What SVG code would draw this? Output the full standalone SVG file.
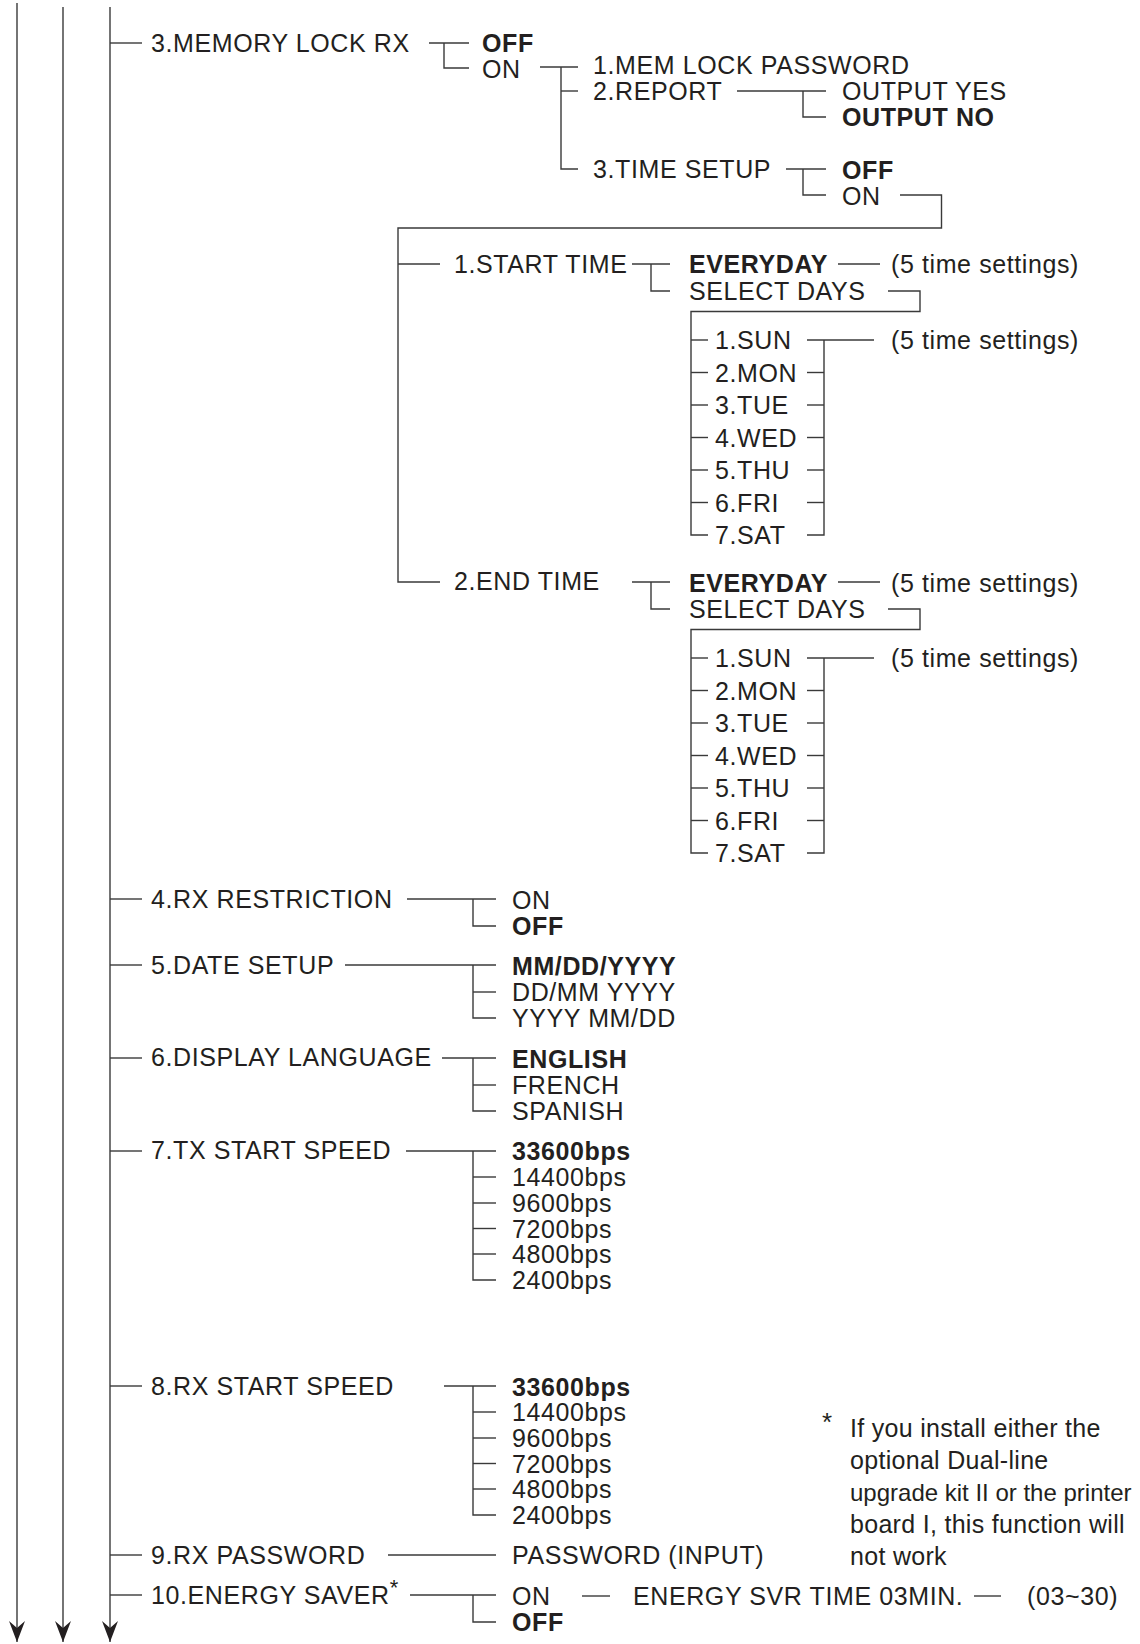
<svg xmlns="http://www.w3.org/2000/svg" width="1140" height="1644" viewBox="0 0 1140 1644">
<style>
text{font-family:"Liberation Sans",Arial,Helvetica,sans-serif;font-size:25px;letter-spacing:0.6px;fill:#231f20}
.b{font-weight:bold}
.fn{letter-spacing:0.3px}
.up{font-size:24px;letter-spacing:0}
.c line,.c polyline{stroke:#3a3a3a;stroke-width:1.4;fill:none}
</style>
<defs>
<marker id="ah" markerUnits="userSpaceOnUse" viewBox="0 -9 22 18" markerWidth="22" markerHeight="18" refX="21" refY="0" orient="auto">
<path d="M0,-8 L21,0 L0,8 L7,0 Z" fill="#231f20"/>
</marker>
</defs>
<rect width="1140" height="1644" fill="#fff"/>
<g class="c" id="connectors">
<line x1="17" y1="3" x2="17" y2="1642" marker-end="url(#ah)"/>
<line x1="63" y1="7" x2="63" y2="1642" marker-end="url(#ah)"/>
<line x1="110" y1="7" x2="110" y2="1642" marker-end="url(#ah)"/>
<line x1="110" y1="43" x2="142" y2="43"/>
<line x1="110" y1="899" x2="142" y2="899"/>
<line x1="110" y1="965" x2="142" y2="965"/>
<line x1="110" y1="1058" x2="142" y2="1058"/>
<line x1="110" y1="1151" x2="142" y2="1151"/>
<line x1="110" y1="1386" x2="142" y2="1386"/>
<line x1="110" y1="1555" x2="142" y2="1555"/>
<line x1="110" y1="1595" x2="142" y2="1595"/>
<line x1="429" y1="43" x2="469" y2="43"/>
<polyline points="444,43 444,68 469,68"/>
<line x1="540" y1="67" x2="578" y2="67"/>
<polyline points="561,67 561,169 578,169"/>
<line x1="561" y1="91" x2="578" y2="91"/>
<line x1="737" y1="91" x2="826" y2="91"/>
<polyline points="803,91 803,117 826,117"/>
<line x1="786" y1="169" x2="826" y2="169"/>
<polyline points="803,169 803,195 826,195"/>
<polyline points="900,195 941.5,195 941.5,228 398,228 398,582 440,582"/>
<line x1="398" y1="264" x2="440" y2="264"/>
<line x1="632" y1="264" x2="670" y2="264"/>
<polyline points="651,264 651,291 670,291"/>
<line x1="838" y1="264" x2="880" y2="264"/>
<polyline points="888,291 920,291 920,311.5 691,311.5 691,535 708,535"/>
<line x1="691" y1="340" x2="708" y2="340"/>
<line x1="691" y1="372.5" x2="708" y2="372.5"/>
<line x1="691" y1="405" x2="708" y2="405"/>
<line x1="691" y1="437.5" x2="708" y2="437.5"/>
<line x1="691" y1="470" x2="708" y2="470"/>
<line x1="691" y1="502.5" x2="708" y2="502.5"/>
<line x1="807" y1="340" x2="874" y2="340"/>
<polyline points="824,340 824,535 807,535"/>
<line x1="807" y1="372.5" x2="824" y2="372.5"/>
<line x1="807" y1="405" x2="824" y2="405"/>
<line x1="807" y1="437.5" x2="824" y2="437.5"/>
<line x1="807" y1="470" x2="824" y2="470"/>
<line x1="807" y1="502.5" x2="824" y2="502.5"/>
<line x1="632" y1="582" x2="670" y2="582"/>
<polyline points="651,582 651,609 670,609"/>
<line x1="838" y1="582" x2="880" y2="582"/>
<polyline points="888,609 920,609 920,629.5 691,629.5 691,853 708,853"/>
<line x1="691" y1="658" x2="708" y2="658"/>
<line x1="691" y1="690.5" x2="708" y2="690.5"/>
<line x1="691" y1="723" x2="708" y2="723"/>
<line x1="691" y1="755.5" x2="708" y2="755.5"/>
<line x1="691" y1="788" x2="708" y2="788"/>
<line x1="691" y1="820.5" x2="708" y2="820.5"/>
<line x1="807" y1="658" x2="874" y2="658"/>
<polyline points="824,658 824,853 807,853"/>
<line x1="807" y1="690.5" x2="824" y2="690.5"/>
<line x1="807" y1="723" x2="824" y2="723"/>
<line x1="807" y1="755.5" x2="824" y2="755.5"/>
<line x1="807" y1="788" x2="824" y2="788"/>
<line x1="807" y1="820.5" x2="824" y2="820.5"/>
<line x1="407" y1="899" x2="496" y2="899"/>
<polyline points="473,899 473,926 496,926"/>
<line x1="345" y1="965" x2="496" y2="965"/>
<polyline points="473,965 473,1018 496,1018"/>
<line x1="473" y1="992" x2="496" y2="992"/>
<line x1="442" y1="1058" x2="496" y2="1058"/>
<polyline points="473,1058 473,1111 496,1111"/>
<line x1="473" y1="1085" x2="496" y2="1085"/>
<line x1="406" y1="1151" x2="496" y2="1151"/>
<polyline points="473,1151 473,1280 496,1280"/>
<line x1="473" y1="1177" x2="496" y2="1177"/>
<line x1="473" y1="1203" x2="496" y2="1203"/>
<line x1="473" y1="1228.5" x2="496" y2="1228.5"/>
<line x1="473" y1="1254" x2="496" y2="1254"/>
<line x1="444" y1="1386" x2="496" y2="1386"/>
<polyline points="473,1386 473,1515 496,1515"/>
<line x1="473" y1="1412" x2="496" y2="1412"/>
<line x1="473" y1="1438" x2="496" y2="1438"/>
<line x1="473" y1="1463.5" x2="496" y2="1463.5"/>
<line x1="473" y1="1489" x2="496" y2="1489"/>
<line x1="388" y1="1555" x2="496" y2="1555"/>
<line x1="410" y1="1595" x2="496" y2="1595"/>
<polyline points="473,1595 473,1622 496,1622"/>
<line x1="582" y1="1596" x2="610" y2="1596"/>
<line x1="974" y1="1596" x2="1001" y2="1596"/>
</g>
<g id="n-memlock"><text x="151" y="52">3.MEMORY LOCK RX</text></g>
<g id="n-memlock-off"><text class="b" x="482" y="52">OFF</text></g>
<g id="n-memlock-on"><text x="482" y="78">ON</text></g>
<g id="n-mempwd"><text x="593" y="74">1.MEM LOCK PASSWORD</text></g>
<g id="n-report"><text x="593" y="99.5">2.REPORT</text></g>
<g id="n-outyes"><text x="842" y="99.5">OUTPUT YES</text></g>
<g id="n-outno"><text class="b" x="842" y="126">OUTPUT NO</text></g>
<g id="n-timesetup"><text x="593" y="178">3.TIME SETUP</text></g>
<g id="n-ts-off"><text class="b" x="842" y="178.5">OFF</text></g>
<g id="n-ts-on"><text x="842" y="204.5">ON</text></g>
<g id="n-start"><text x="454" y="273">1.START TIME</text></g>
<g id="n-s-every"><text class="b" x="689" y="273">EVERYDAY</text></g>
<g id="n-s-every-t"><text x="891" y="273">(5 time settings)</text></g>
<g id="n-s-select"><text x="689" y="299.5">SELECT DAYS</text></g>
<g id="n-s-days">
<text x="715" y="349">1.SUN</text>
<text x="715" y="381.5">2.MON</text>
<text x="715" y="414">3.TUE</text>
<text x="715" y="446.5">4.WED</text>
<text x="715" y="479">5.THU</text>
<text x="715" y="511.5">6.FRI</text>
<text x="715" y="544">7.SAT</text>
</g>
<g id="n-s-days-t"><text x="891" y="349">(5 time settings)</text></g>
<g id="n-end"><text x="454" y="590">2.END TIME</text></g>
<g id="n-e-every"><text class="b" x="689" y="591.5">EVERYDAY</text></g>
<g id="n-e-every-t"><text x="891" y="591.5">(5 time settings)</text></g>
<g id="n-e-select"><text x="689" y="617.5">SELECT DAYS</text></g>
<g id="n-e-days">
<text x="715" y="667">1.SUN</text>
<text x="715" y="699.5">2.MON</text>
<text x="715" y="732">3.TUE</text>
<text x="715" y="764.5">4.WED</text>
<text x="715" y="797">5.THU</text>
<text x="715" y="829.5">6.FRI</text>
<text x="715" y="862">7.SAT</text>
</g>
<g id="n-e-days-t"><text x="891" y="667">(5 time settings)</text></g>
<g id="n-rxrestr"><text x="151" y="908">4.RX RESTRICTION</text></g>
<g id="n-rxr-opts"><text x="512" y="908.5">ON</text><text class="b" x="512" y="935">OFF</text></g>
<g id="n-date"><text x="151" y="974">5.DATE SETUP</text></g>
<g id="n-date-opts"><text class="b" x="512" y="975">MM/DD/YYYY</text><text x="512" y="1001">DD/MM YYYY</text><text x="512" y="1027">YYYY MM/DD</text></g>
<g id="n-lang"><text x="151" y="1066">6.DISPLAY LANGUAGE</text></g>
<g id="n-lang-opts"><text class="b" x="512" y="1068">ENGLISH</text><text x="512" y="1094">FRENCH</text><text x="512" y="1120">SPANISH</text></g>
<g id="n-tx"><text x="151" y="1159">7.TX START SPEED</text></g>
<g id="n-tx-opts"><text class="b" x="512" y="1160">33600bps</text><text x="512" y="1186">14400bps</text><text x="512" y="1212">9600bps</text><text x="512" y="1237.5">7200bps</text><text x="512" y="1263">4800bps</text><text x="512" y="1289">2400bps</text></g>
<g id="n-rx"><text x="151" y="1395">8.RX START SPEED</text></g>
<g id="n-rx-opts"><text class="b" x="512" y="1395.5">33600bps</text><text x="512" y="1421">14400bps</text><text x="512" y="1447">9600bps</text><text x="512" y="1472.5">7200bps</text><text x="512" y="1498">4800bps</text><text x="512" y="1524">2400bps</text></g>
<g id="n-rxpwd"><text x="151" y="1564">9.RX PASSWORD</text></g>
<g id="n-pwdinput"><text x="512" y="1564">PASSWORD (INPUT)</text></g>
<g id="n-energy"><text x="151" y="1604">10.ENERGY SAVER<tspan dy="-9" font-size="22">*</tspan></text></g>
<g id="n-energy-opts"><text x="512" y="1605">ON</text><text class="b" x="512" y="1631">OFF</text></g>
<g id="n-svrtime"><text x="633" y="1605">ENERGY SVR TIME 03MIN.</text></g>
<g id="n-range"><text x="1027" y="1605">(03~30)</text></g>
<g id="n-footnote">
<text x="822" y="1431" style="font-size:26px">*</text>
<text class="fn" x="850" y="1437">If you install either the</text>
<text class="fn" x="850" y="1469">optional Dual-line</text>
<text class="up" x="850" y="1501">upgrade kit II or the printer</text>
<text class="fn" x="850" y="1533">board I, this function will</text>
<text class="fn" x="850" y="1565">not work</text>
</g>
</svg>
